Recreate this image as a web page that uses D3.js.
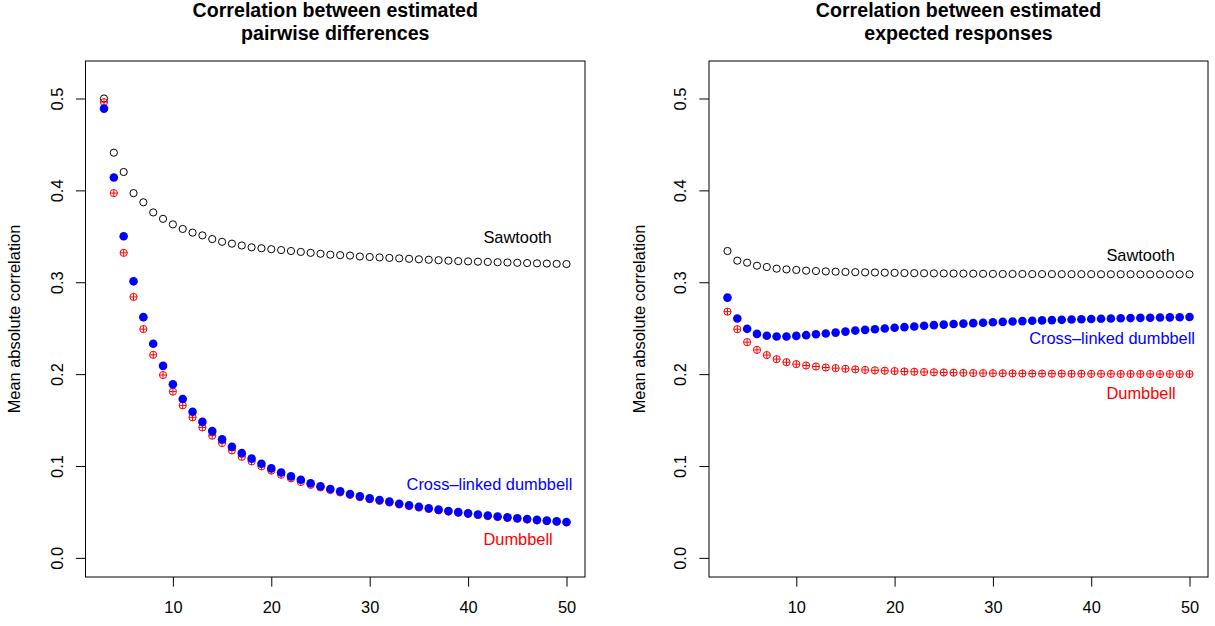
<!DOCTYPE html>
<html>
<head>
<meta charset="utf-8">
<script src="https://cdn.jsdelivr.net/npm/d3@7"></script>
<style>
  body { margin: 0; background: #fff; }
  svg { display: block; font-family: "Liberation Sans", Arial, Helvetica, sans-serif; }
  .tick line { stroke: #000; }
  .tick text { font-size: 16.4px; fill: #000; }
</style>
</head>
<body>
<svg id="chart" width="1215" height="626"></svg>
<script>

// Group sizes 3..50
const sizes = d3.range(3, 51);

// Left panel: correlation between estimated pairwise differences
const leftSawtooth = [
  0.500, 0.441, 0.420, 0.397, 0.387, 0.376, 0.369, 0.363, 0.358, 0.354,
  0.351, 0.347, 0.344, 0.342, 0.340, 0.338, 0.337, 0.336, 0.335, 0.334,
  0.333, 0.332, 0.331, 0.330, 0.3295, 0.329, 0.328, 0.3275, 0.327, 0.3265,
  0.326, 0.3255, 0.325, 0.3245, 0.324, 0.3235, 0.323, 0.3227, 0.3224, 0.3221,
  0.3218, 0.3215, 0.3212, 0.3209, 0.3206, 0.3203, 0.3200, 0.3198
];
const leftCrossLinked = [
  0.489, 0.414, 0.350, 0.301, 0.262, 0.233, 0.209, 0.189, 0.173, 0.159,
  0.148, 0.138, 0.129, 0.121, 0.114, 0.108, 0.1025, 0.0974, 0.093, 0.0887,
  0.0851, 0.0812, 0.078, 0.075, 0.0724, 0.0696, 0.067, 0.0648, 0.063, 0.0612,
  0.059, 0.0572, 0.0556, 0.054, 0.0525, 0.0511, 0.0498, 0.0485, 0.0473, 0.0462,
  0.0451, 0.0441, 0.0432, 0.0423, 0.0414, 0.0406, 0.0398, 0.039
];
const leftDumbbell = [
  0.496, 0.397, 0.332, 0.284, 0.249, 0.221, 0.199, 0.181, 0.166, 0.153,
  0.142, 0.133, 0.125, 0.117, 0.110, 0.105, 0.0996, 0.095, 0.0905, 0.0866,
  0.0826, 0.0795, 0.0767, 0.0738, 0.0712, 0.0685, 0.066, 0.0638, 0.062, 0.0602,
  0.0581, 0.0563, 0.0547, 0.0532, 0.0517, 0.0503, 0.0491, 0.0478, 0.0466, 0.0455,
  0.0445, 0.0435, 0.0426, 0.0417, 0.0408, 0.040, 0.0392, 0.0385
];

// Right panel: correlation between estimated expected responses
const rightSawtooth = [
  0.334, 0.3235, 0.3213, 0.318, 0.3166, 0.3148, 0.314, 0.3134, 0.3126, 0.3122,
  0.3118, 0.3115, 0.3112, 0.311, 0.3108, 0.3106, 0.3104, 0.3102, 0.310, 0.3099,
  0.3098, 0.3097, 0.3096, 0.3095, 0.3094, 0.3093, 0.3092, 0.3091, 0.3090, 0.3090,
  0.3090, 0.3089, 0.3089, 0.3089, 0.3088, 0.3088, 0.3088, 0.3088, 0.3087, 0.3087,
  0.3087, 0.3087, 0.3086, 0.3086, 0.3086, 0.3086, 0.3086, 0.3086
];
const rightCrossLinked = [
  0.2833, 0.2605, 0.2493, 0.2438, 0.2418, 0.2409, 0.2409, 0.2416, 0.2424, 0.2434,
  0.2442, 0.2452, 0.2463, 0.2474, 0.2482, 0.2489, 0.2496, 0.2505, 0.2512, 0.2519,
  0.2526, 0.2533, 0.2539, 0.2545, 0.2550, 0.2555, 0.2560, 0.2565, 0.2569, 0.2573,
  0.2577, 0.2581, 0.2585, 0.2588, 0.2591, 0.2594, 0.2597, 0.2600, 0.2603, 0.2605,
  0.2608, 0.2610, 0.2612, 0.2614, 0.2616, 0.2618, 0.2619, 0.2621
];
const rightDumbbell = [
  0.268, 0.2489, 0.2348, 0.2264, 0.2207, 0.2163, 0.213, 0.2109, 0.2094, 0.2083,
  0.2072, 0.2065, 0.2058, 0.2052, 0.2046, 0.2041, 0.2037, 0.2033, 0.2029, 0.2026,
  0.2023, 0.202, 0.2018, 0.2016, 0.2014, 0.2012, 0.2011, 0.201, 0.2009, 0.2008,
  0.2007, 0.2006, 0.2006, 0.2005, 0.2005, 0.2004, 0.2004, 0.2003, 0.2003, 0.2003,
  0.2002, 0.2002, 0.2002, 0.2002, 0.2001, 0.2001, 0.2001, 0.2001
];

const seriesNames = ["Sawtooth", "Cross\u2013linked dumbbell", "Dumbbell"];
const xTicks = [10, 20, 30, 40, 50];
const yTicks = [0, 0.1, 0.2, 0.3, 0.4, 0.5];

// label anchors (right end of text) in data units
const leftLabelX = [48.5, 50.6, 48.6];
const leftLabelY = [0.349, 0.0797, 0.0199];
const rightLabelX = [48.5, 50.56, 48.6];
const rightLabelY = [0.3297, 0.2395, 0.1797];

const panels = [
  {
    title: ["Correlation between estimated", "pairwise differences"],
    left: 85.5, right: 585, ylabX: 20,
    sawtooth: leftSawtooth, cross: leftCrossLinked, dumb: leftDumbbell,
    labelX: leftLabelX, labelY: leftLabelY
  },
  {
    title: ["Correlation between estimated", "expected responses"],
    left: 709, right: 1208, ylabX: 645,
    sawtooth: rightSawtooth, cross: rightCrossLinked, dumb: rightDumbbell,
    labelX: rightLabelX, labelY: rightLabelY
  }
];

const plotTop = 61, plotBottom = 577;
const svg = d3.select("#chart");

panels.forEach(p => {

  const x = d3.scaleLinear().domain([1.12, 51.88]).range([p.left, p.right]);
  const y = d3.scaleLinear().domain([-0.0208, 0.5408]).range([plotBottom, plotTop]);

  const g = svg.append("g");

  // Axes

  const xAxis = g.append("g")
    .attr("transform", `translate(0,${plotBottom})`)
    .call(d3.axisBottom(x).tickValues(xTicks).tickSize(9.6).tickFormat(d3.format("d")));
  xAxis.select(".domain").remove();
  xAxis.selectAll("text").attr("y", 24.5);

  const yAxis = g.append("g")
    .attr("transform", `translate(${p.left},0)`)
    .call(d3.axisLeft(y).tickValues(yTicks).tickSize(9.6).tickFormat(d3.format(".1f")));
  yAxis.select(".domain").remove();
  yAxis.selectAll("text")
    .attr("x", null).attr("dy", null)
    .attr("text-anchor", "middle")
    .attr("transform", "translate(-23,0) rotate(-90)");

  g.append("rect")
    .attr("x", p.left).attr("y", plotTop)
    .attr("width", p.right - p.left).attr("height", plotBottom - plotTop)
    .attr("fill", "none").attr("stroke", "#000").attr("stroke-width", 1);

  g.append("text")
    .attr("transform", `translate(${p.ylabX},${(plotTop + plotBottom) / 2}) rotate(-90)`)
    .attr("text-anchor", "middle")
    .style("font-size", "16.4px")
    .text("Mean absolute correlation");

  // Title

  g.append("g").selectAll("text")
    .data(p.title)
    .join("text")
    .attr("x", (p.left + p.right) / 2)
    .attr("y", (d, i) => 16.5 + i * 23)
    .attr("text-anchor", "middle")
    .style("font-size", "19.6px")
    .style("font-weight", "bold")
    .text(d => d);

  // Points: sawtooth (open), dumbbell (circle plus), cross-linked (filled)

  g.append("g").selectAll("circle")
    .data(sizes.map((s, i) => [s, p.sawtooth[i]]))
    .join("circle")
    .attr("cx", d => x(d[0]))
    .attr("cy", d => y(d[1]))
    .attr("r", 3.6)
    .attr("fill", "none")
    .attr("stroke", "#000")
    .attr("stroke-width", 1);

  const dumb = g.append("g").selectAll("g")
    .data(sizes.map((s, i) => [s, p.dumb[i]]))
    .join("g")
    .attr("transform", d => `translate(${x(d[0])},${y(d[1])})`)
    .attr("stroke", "#ff0000")
    .attr("stroke-width", 1)
    .attr("fill", "none");
  dumb.append("circle").attr("r", 3.6);
  dumb.append("path").attr("d", "M-3.6,0H3.6M0,-3.6V3.6");

  g.append("g").selectAll("circle")
    .data(sizes.map((s, i) => [s, p.cross[i]]))
    .join("circle")
    .attr("cx", d => x(d[0]))
    .attr("cy", d => y(d[1]))
    .attr("r", 4.3)
    .attr("fill", "#0000ff");

  // Series labels

  const colors = ["#000", "#0000ff", "#ff0000"];
  g.append("g").selectAll("text")
    .data(seriesNames)
    .join("text")
    .attr("x", (d, i) => x(p.labelX[i]))
    .attr("y", (d, i) => y(p.labelY[i]))
    .attr("dy", "0.35em")
    .attr("text-anchor", "end")
    .attr("fill", (d, i) => colors[i])
    .style("font-size", "16.4px")
    .text(d => d);
});

</script>
</body>
</html>
